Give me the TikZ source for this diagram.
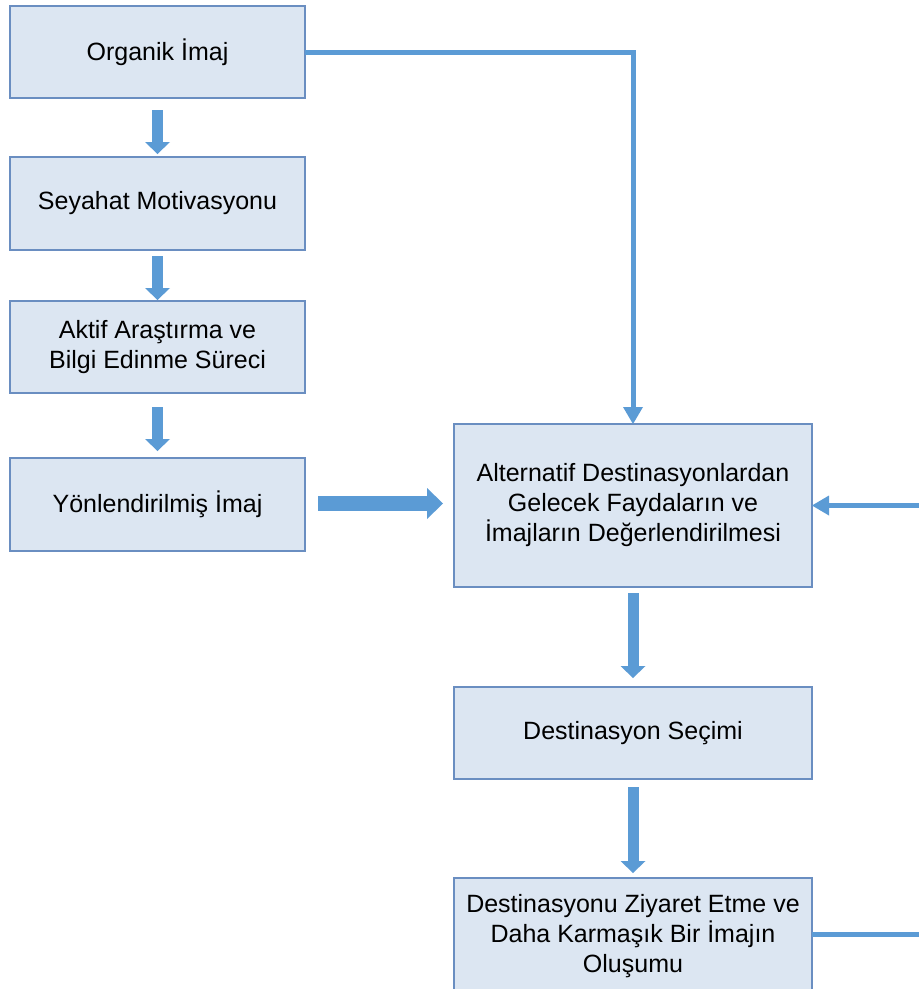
\documentclass[tikz,border=0pt]{standalone}
\usepackage{fontspec}
\setmainfont{Liberation Sans}
\usetikzlibrary{arrows.meta,calc}
\definecolor{boxfill}{HTML}{DCE6F2}
\definecolor{boxdraw}{HTML}{6A8EC1}
\definecolor{arrblue}{HTML}{5B9BD5}
\tikzset{
  stepbox/.style={draw=boxdraw, line width=1.5pt, fill=boxfill, rectangle,
    inner sep=0pt, outer sep=0pt, align=center, text=black,
    font=\fontsize{25}{30}\selectfont},
  vblock/.style={draw=arrblue, line width=11pt,
    -{Triangle[width=25pt,length=12pt,line width=0pt]}},
  hblock/.style={draw=arrblue, line width=15pt,
    -{Triangle[width=31pt,length=16pt,line width=0pt]}},
  conn/.style={draw=arrblue, line width=5pt},
  conntip/.style={conn, -{Triangle[width=20pt,length=17pt,line width=0pt]}}
}
\begin{document}
\begin{tikzpicture}[x=1pt,y=-1pt]
\useasboundingbox (0,0) rectangle (919,989);
\clip (0,0) rectangle (919,989);
\fill[white] (0,0) rectangle (919,989);

% left column
\node[stepbox, minimum width=295pt, minimum height=92pt] (o1) at (157.5,52) {Organik İmaj};
\node[stepbox, minimum width=295pt, minimum height=93pt] (o2) at (157.5,203.5) {Seyahat Motivasyonu};
\node[stepbox, minimum width=295pt, minimum height=92pt] (o3) at (157.5,347) {Aktif Araştırma ve\\Bilgi Edinme Süreci};
\node[stepbox, minimum width=295pt, minimum height=93pt] (o4) at (157.5,504.5) {Yönlendirilmiş İmaj};

% right column
\node[stepbox, minimum width=358pt, minimum height=163pt] (a) at (633,505.5) {Alternatif Destinasyonlardan\\Gelecek Faydaların ve\\İmajların Değerlendirilmesi};
\node[stepbox, minimum width=358pt, minimum height=92pt] (d) at (633,733) {Destinasyon Seçimi};
\node[stepbox, minimum width=358pt, minimum height=116pt] (v) at (633,936) {Destinasyonu Ziyaret Etme ve\\Daha Karmaşık Bir İmajın\\Oluşumu};

% block arrows
\draw[vblock] ([yshift=-12pt]o1.south) -- ([yshift=3pt]o2.north);
\draw[vblock] ([yshift=-6pt]o2.south) -- ([yshift=1pt]o3.north);
\draw[vblock] ([yshift=-14pt]o3.south) -- ([yshift=7pt]o4.north);
\draw[hblock] ([xshift=13pt,yshift=1pt]o4.east) -- ([xshift=-11pt,yshift=1pt]o4.east -| a.west);
\draw[vblock] ([yshift=-6pt]a.south) -- ([yshift=9pt]d.north);
\draw[vblock] ([yshift=-8pt]d.south) -- ([yshift=5pt]v.north);

% connectors
\coordinate (fbin) at (930,505.5);
\coordinate (fbout) at (930,934);
\draw[conntip] (o1.east) -| (a.north);
\draw[conntip] (fbin) -- (a.east);
\draw[conn] (v.east |- fbout) -- (fbout);
\end{tikzpicture}
\end{document}
